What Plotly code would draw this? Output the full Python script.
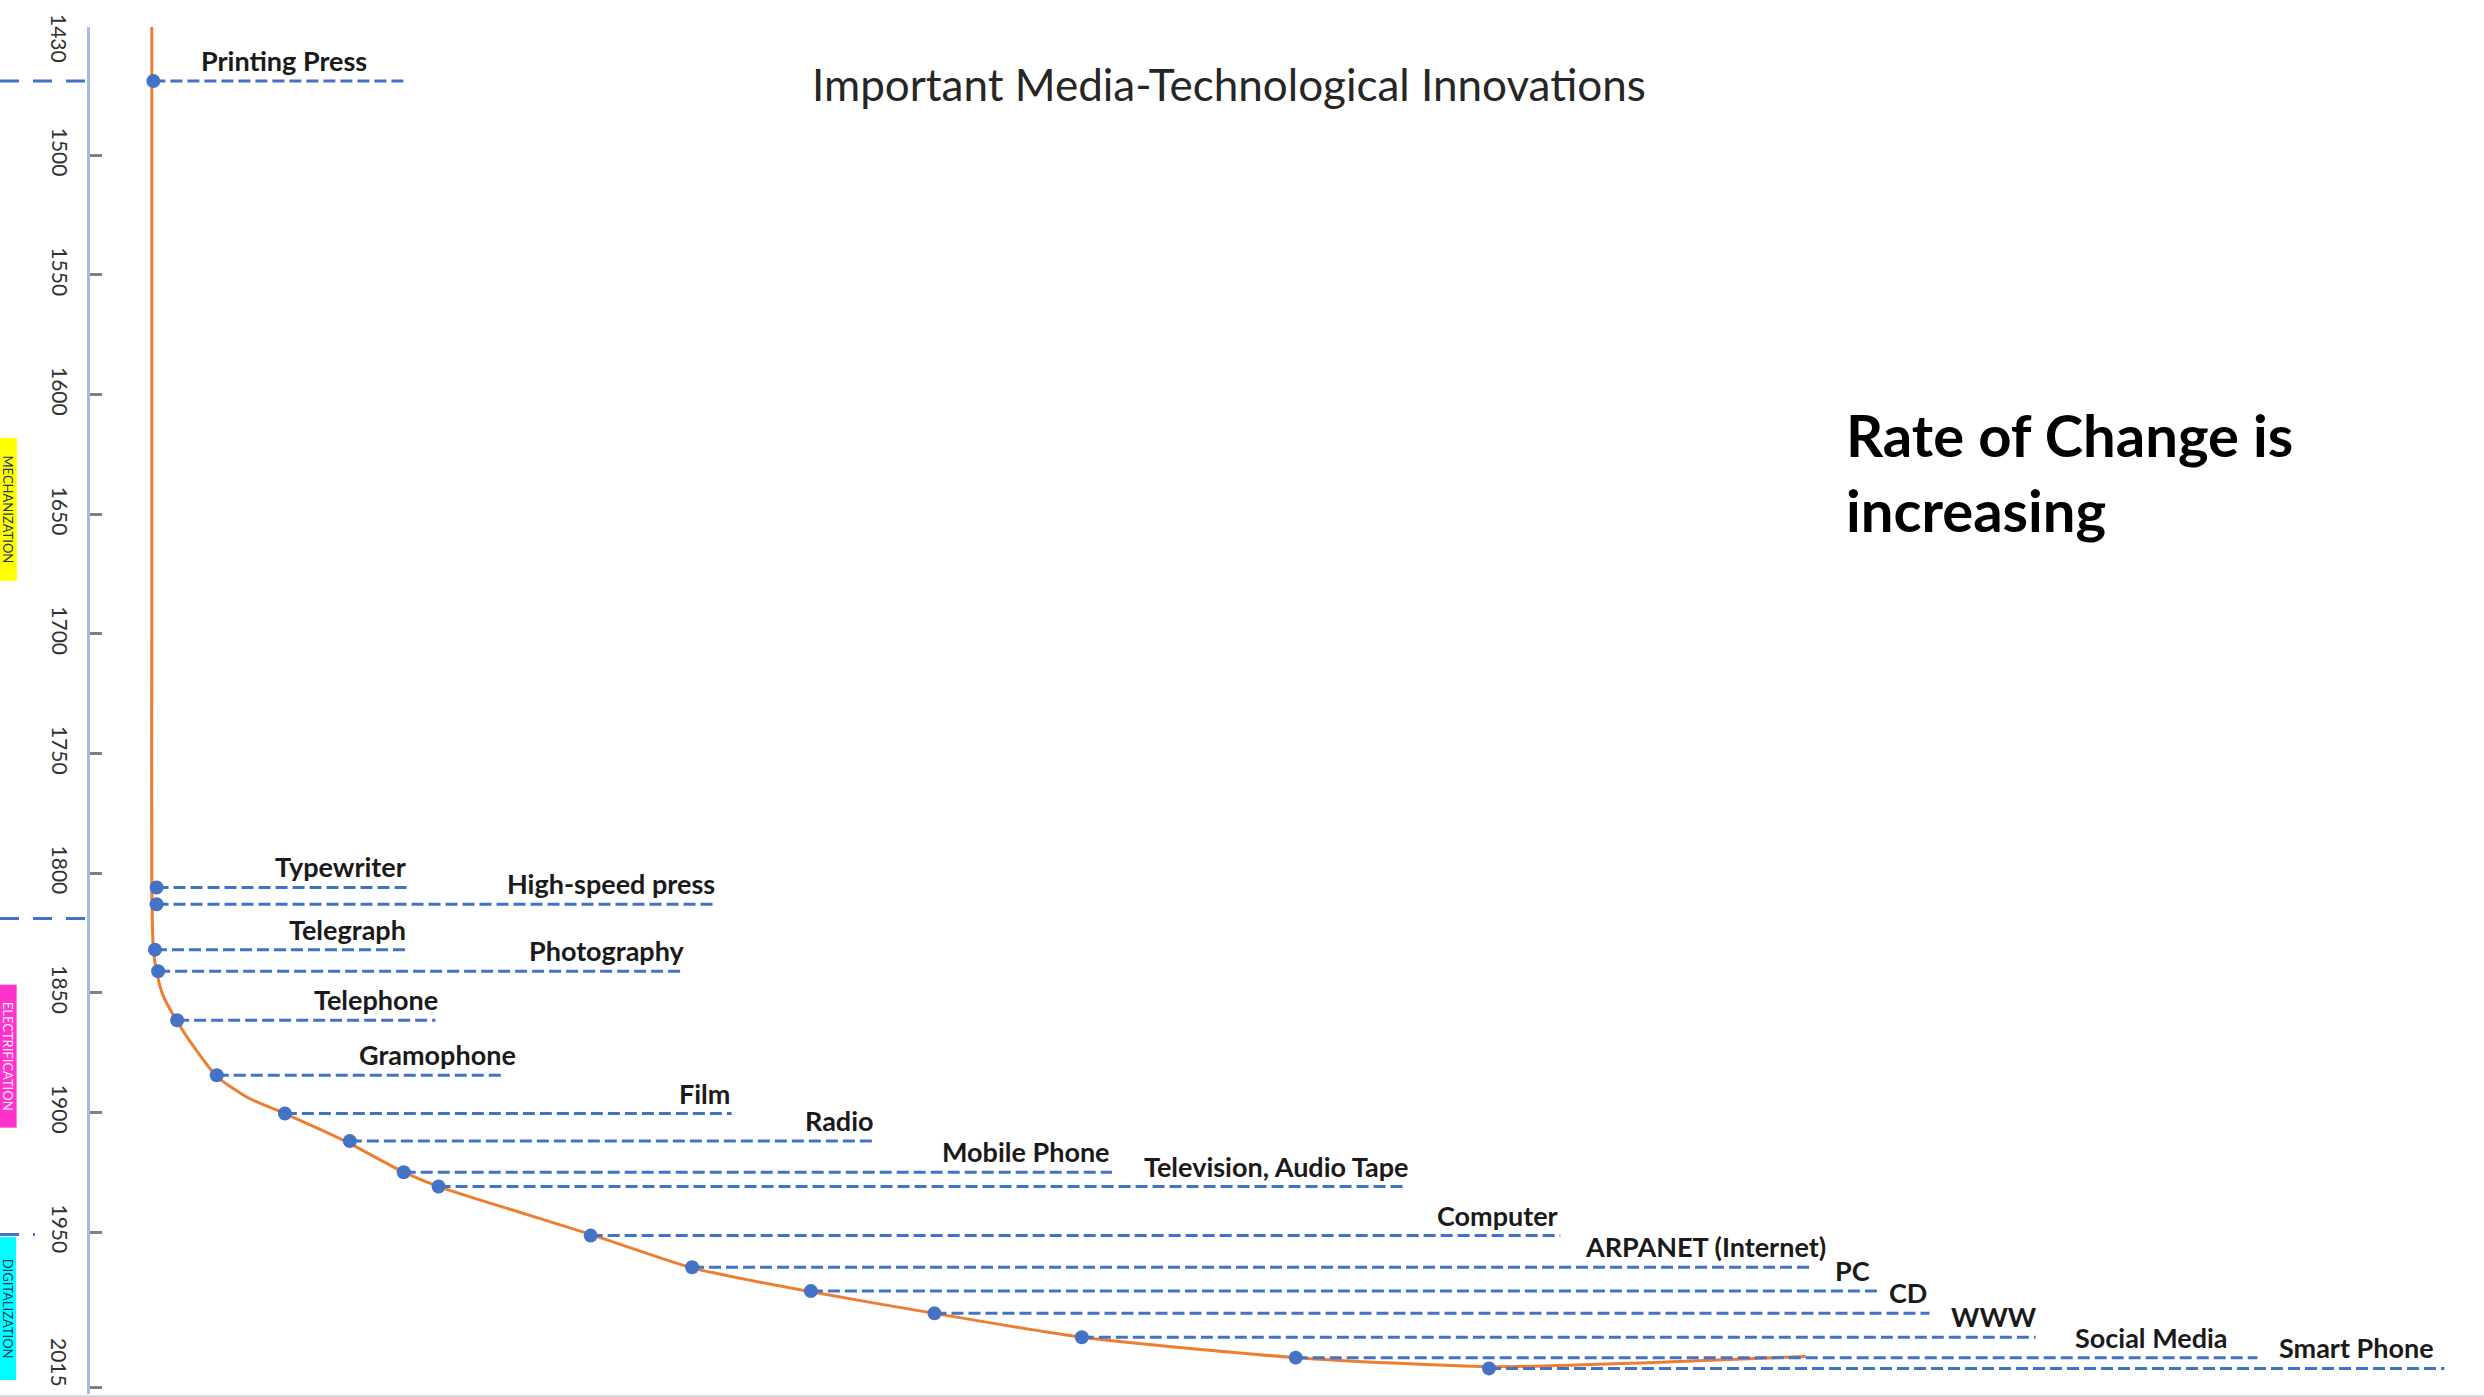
import plotly.graph_objects as go

# ---------------- data ----------------
innovations = [
    "Printing Press", "Typewriter", "High-speed press", "Telegraph", "Photography",
    "Telephone", "Gramophone", "Film", "Radio", "Mobile Phone",
    "Television, Audio Tape", "Computer", "ARPANET (Internet)", "PC", "CD",
    "WWW", "Social Media", "Smart Phone",
]
# vertical position on the (year) axis, as drawn
innovation_year = [1469, 1806, 1813, 1832, 1841, 1861.5, 1884.5, 1900.5, 1912, 1925,
                   1931, 1951.5, 1964.7, 1974.7, 1984, 1994, 2002.5, 2007]
# horizontal position on the hidden "pace" axis (arbitrary units)
innovation_x = [97, 99, 99, 98, 100, 112, 137, 180, 221, 255,
                277, 373, 437, 512, 590, 683, 818, 940]
# where each dashed leader line ends (hidden axis units)
label_end_x = [257, 258, 453, 258, 432, 275, 318, 462, 553, 702,
               888, 985, 1142, 1185, 1218, 1285, 1425, 1543]

# orange trend curve
trend_x = [96, 96, 96, 97, 99, 103, 112, 123, 137, 157, 180, 218, 255, 277,
           373, 437, 512, 590, 683, 818, 940, 1040, 1140]
trend_year = [1446, 1700, 1806, 1832, 1841, 1851, 1862, 1873, 1885, 1894, 1900.5,
              1912, 1925, 1931, 1951, 1965, 1975, 1984, 1994, 2002.5, 2006.3, 2004.6, 2002]

tick_years = [1500, 1550, 1600, 1650, 1700, 1750, 1800, 1850, 1900, 1950, 2015]
top_tick_label = "1430"
bottom_tick_label = "2015"

era_names = ["MECHANIZATION", "ELECTRIFICATION", "DIGITALIZATION"]
era_center_years = [1648, 1876.5, 1982]
era_boundary_years = [1469, 1819, 1951]

title_text = "Important Media-Technological Innovations"
message_text = "Rate of Change is<br>increasing"

# ---------------- styling ----------------
W, H = 2484, 1397
ML, MR, MT, MB = 90, 0, 27, 3
PW = W - ML - MR
PH = H - MT - MB
BLUE = "#4472C4"
ORANGE = "#ED7D31"
FONT = "Lato"
label_xshift = [-38, 0, 0, 0, 3, 5, 14, 0, 0, 0, 3, 0, 19, -5, 0, 3, -27, -8]
era_colors = ["#FFFF00", "#FF33CC", "#00FFFF"]
era_text_colors = ["#1F3864", "#FFE6F7", "#1F3864"]
era_line_len = [90, 90, 35]

fig = go.Figure()

# orange trend curve
fig.add_trace(go.Scatter(
    x=trend_x, y=trend_year, mode="lines",
    line=dict(color=ORANGE, width=3, shape="spline", smoothing=0.6),
    hoverinfo="skip", showlegend=False,
))

# dashed leader lines
lx, ly = [], []
for x0, x1, yr in zip(innovation_x, label_end_x, innovation_year):
    lx += [x0, x1, None]
    ly += [yr, yr, None]
fig.add_trace(go.Scatter(
    x=lx, y=ly, mode="lines",
    line=dict(color=BLUE, width=3, dash="12px,5px"),
    hoverinfo="skip", showlegend=False,
))

# dots
fig.add_trace(go.Scatter(
    x=innovation_x, y=innovation_year, mode="markers",
    marker=dict(color=BLUE, size=14),
    text=innovations, hoverinfo="text", showlegend=False,
))

annotations = []
for name, xe, yr, sh in zip(innovations, label_end_x, innovation_year, label_xshift):
    annotations.append(dict(
        x=xe, y=yr, xref="x", yref="y", text=name, showarrow=False,
        xanchor="right", yanchor="bottom", xshift=sh, yshift=2,
        font=dict(family=FONT, size=27, color="#1a1a1a", weight="bold"),
    ))

# title
annotations.append(dict(
    x=(1229 - ML) / PW, y=1 - (84 - MT) / PH, xref="paper", yref="paper",
    text=title_text, showarrow=False, xanchor="center", yanchor="middle",
    font=dict(family=FONT, size=44, color="#262626"),
))
# message
annotations.append(dict(
    x=(1844 - ML) / PW, y=1 - (472 - MT) / PH, xref="paper", yref="paper",
    text=message_text, showarrow=False, xanchor="left", yanchor="middle", align="left",
    font=dict(family=FONT, size=58, color="#000000", weight="bold"),
))
# axis end labels
annotations.append(dict(
    x=(60 - ML) / PW, y=1 - (38 - MT) / PH, xref="paper", yref="paper", text=top_tick_label,
    showarrow=False, textangle=90, xanchor="center", yanchor="middle",
    font=dict(family=FONT, size=21, color="#303030"),
))
annotations.append(dict(
    x=(60 - ML) / PW, y=1 - (1362 - MT) / PH, xref="paper", yref="paper", text=bottom_tick_label,
    showarrow=False, textangle=90, xanchor="center", yanchor="middle",
    font=dict(family=FONT, size=21, color="#303030"),
))
# era labels
for nm, yc, bg, fc in zip(era_names, era_center_years, era_colors, era_text_colors):
    annotations.append(dict(
        x=(8 - ML) / PW, y=yc, xref="paper", yref="y", text=nm, showarrow=False,
        textangle=90, xanchor="center", yanchor="middle", bgcolor=bg, borderpad=0,
        width=142, height=16,
        font=dict(family=FONT, size=13, color=fc),
    ))

shapes = []
for yr, ln in zip(era_boundary_years, era_line_len):
    shapes.append(dict(
        type="line", xref="paper", yref="y", x0=-ML / PW, x1=(ln - ML) / PW,
        y0=yr, y1=yr, line=dict(color=BLUE, width=3, dash="19px,14px"),
    ))
shapes.append(dict(
    type="line", xref="paper", yref="paper", x0=-ML / PW, x1=1, y0=-MB / PH,
    y1=-MB / PH, line=dict(color="#d9d9de", width=4),
))

fig.update_layout(
    width=W, height=H,
    margin=dict(l=ML, r=MR, t=MT, b=MB),
    paper_bgcolor="white", plot_bgcolor="white",
    annotations=annotations, shapes=shapes,
    showlegend=False,
)
fig.update_xaxes(range=[57, 1568], visible=False, fixedrange=True)
fig.update_yaxes(
    range=[2017.7, 1446.4], tickvals=tick_years, ticktext=[str(t) for t in tick_years],
    tickangle=90, ticks="inside", ticklen=12, tickwidth=3, tickcolor="#808080",
    showline=True, linecolor="#A5BBE5", linewidth=3, showgrid=False, zeroline=False,
    tickfont=dict(family=FONT, size=21, color="#303030"), ticklabelstandoff=10,
)

fig.write_html("out.html")
